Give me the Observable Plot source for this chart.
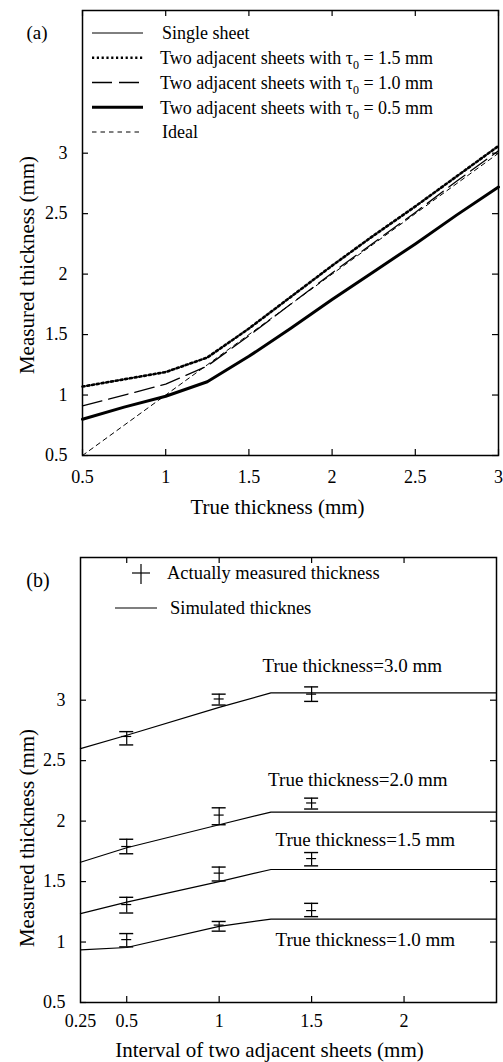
<!DOCTYPE html>
<html>
<head>
<meta charset="utf-8">
<script src="https://cdn.jsdelivr.net/npm/d3@7"></script>
<script src="https://cdn.jsdelivr.net/npm/@observablehq/plot@0.6"></script>
<style>
  body { margin: 0; background: #fff; }
  #chart svg { display: block; }
</style>
</head>
<body>
<div id="chart"></div>
<script>
// ---------- Panel (a): measured vs. true thickness ----------
const trueThickness = [0.5, 0.75, 1, 1.25, 1.5, 1.75, 2, 2.25, 2.5, 2.75, 3];
const singleSheet   = [0.80, 0.90, 0.99, 1.11, 1.32, 1.55, 1.79, 2.02, 2.25, 2.49, 2.72];
const tau15         = [1.07, 1.13, 1.19, 1.31, 1.55, 1.81, 2.07, 2.32, 2.56, 2.81, 3.06];
const tau10         = [0.91, 1.00, 1.09, 1.24, 1.49, 1.75, 2.01, 2.26, 2.51, 2.77, 3.02];
const tau05         = [0.80, 0.90, 0.99, 1.11, 1.32, 1.55, 1.79, 2.02, 2.25, 2.49, 2.72];
const ideal         = [0.5, 0.75, 1, 1.25, 1.5, 1.75, 2, 2.25, 2.5, 2.75, 3];
const legendLabelsA = [
  "Single sheet",
  "Two adjacent sheets with τ0 = 1.5 mm",
  "Two adjacent sheets with τ0 = 1.0 mm",
  "Two adjacent sheets with τ0 = 0.5 mm",
  "Ideal"
];
const xTicksA = [0.5, 1, 1.5, 2, 2.5, 3];
const yTicks  = [0.5, 1, 1.5, 2, 2.5, 3];

// ---------- Panel (b): measured thickness vs. sheet interval ----------
const intervalSim = [0.25, 0.5, 1.0, 1.28, 2.5];
const sim30 = [2.60, 2.71, 2.94, 3.06, 3.06];
const sim20 = [1.66, 1.78, 1.97, 2.075, 2.075];
const sim15 = [1.235, 1.33, 1.50, 1.60, 1.60];
const sim10 = [0.935, 0.955, 1.13, 1.19, 1.19];
const intervalMeas = [0.5, 1.0, 1.5];
const meas30 = [2.70, 3.01, 3.05], meas30Lo = [2.63, 2.96, 2.99], meas30Hi = [2.74, 3.05, 3.11];
const meas20 = [1.79, 2.05, 2.15], meas20Lo = [1.73, 1.97, 2.10], meas20Hi = [1.85, 2.11, 2.19];
const meas15 = [1.31, 1.57, 1.69], meas15Lo = [1.24, 1.505, 1.63], meas15Hi = [1.37, 1.62, 1.74];
const meas10 = [1.02, 1.14, 1.26], meas10Lo = [0.96, 1.09, 1.21], meas10Hi = [1.07, 1.17, 1.32];
const curveLabels = ["True thickness=3.0 mm", "True thickness=2.0 mm", "True thickness=1.5 mm", "True thickness=1.0 mm"];
const legendLabelsB = ["Actually measured thickness", "Simulated thicknes"];
const xTicksB = [0.25, 0.5, 1, 1.5, 2];

// ---------- layout & styles ----------
const SERIF = "'Liberation Serif', 'Times New Roman', serif";
const W = 503;
const LA = {height: 525, top: 10, bottom: 70, left: 82, right: 5};
const LB = {height: 537, top: 32, bottom: 60, left: 80, right: 7};
const TICK = 6;
const Y_DOMAIN = [0.5, 4.18];
const styleA = [
  {width: 1, dash: null},
  {width: 2.6, dash: "2.2,2.6"},
  {width: 1.3, dash: "20,7"},
  {width: 3, dash: null},
  {width: 1, dash: "4.5,4"}
];
const labelX  = [1.72, 1.75, 1.79, 1.79];
const labelDy = [-27, -32, -30, 21];
const fmt = d => String(d);

// inward tick marks on all four sides of the frame
function frameTicks(xt, yt, L) {
  const iw = W - L.left - L.right, ih = L.height - L.top - L.bottom;
  const s = {stroke: "#000", strokeWidth: 1.2};
  return [
    Plot.tickX(xt, {x: d => d, insetTop: ih - TICK, ...s}),
    Plot.tickX(xt, {x: d => d, insetBottom: ih - TICK, ...s}),
    Plot.tickY(yt, {y: d => d, insetRight: iw - TICK, ...s}),
    Plot.tickY(yt, {y: d => d, insetLeft: iw - TICK, ...s})
  ];
}

function baseOptions(L) {
  return {
    width: W, height: L.height,
    marginTop: L.top, marginBottom: L.bottom, marginLeft: L.left, marginRight: L.right,
    style: `font-family: ${SERIF}; font-size: 18px; color: #000; background: #fff; overflow: visible;`
  };
}

const axisText = {fontFamily: SERIF, fontSize: 18};
const titleText = {fontFamily: SERIF, fontSize: 21, textAnchor: "middle"};

// ---------- draw panel (a) ----------
const seriesA = [singleSheet, tau15, tau10, tau05, ideal];
const orderA = [4, 0, 2, 1, 3]; // draw ideal first, heavy lines last
const lineMarksA = orderA.map(i => {
  const rows = trueThickness.map((x, k) => ({x, y: seriesA[i][k]}));
  return Plot.line(rows, {
    x: "x", y: "y", stroke: "#000",
    strokeWidth: styleA[i].width,
    strokeDasharray: styleA[i].dash || undefined
  });
});

const chartA = Plot.plot({
  ...baseOptions(LA),
  x: {domain: [0.5, 3]},
  y: {domain: Y_DOMAIN},
  marks: [
    ...lineMarksA,
    Plot.frame({stroke: "#000", strokeWidth: 1.5}),
    ...frameTicks(xTicksA, yTicks, LA),
    Plot.axisX(xTicksA, {anchor: "bottom", tickSize: 0, tickPadding: 15, label: null, tickFormat: fmt, ...axisText}),
    Plot.axisY(yTicks, {anchor: "left", tickSize: 0, tickPadding: 15, label: null, tickFormat: fmt, ...axisText}),
    Plot.text(["True thickness (mm)"], {text: d => d, frameAnchor: "bottom", dy: 58, dx: -13, ...titleText}),
    Plot.text(["Measured thickness (mm)"], {text: d => d, frameAnchor: "left", rotate: -90, dx: -55, dy: 32, ...titleText})
  ]
});

// ---------- draw panel (b) ----------
const simSeries = [sim30, sim20, sim15, sim10];
const measSeries = [
  [meas30, meas30Lo, meas30Hi],
  [meas20, meas20Lo, meas20Hi],
  [meas15, meas15Lo, meas15Hi],
  [meas10, meas10Lo, meas10Hi]
];
const simRows = simSeries.flatMap((vals, s) => intervalSim.map((x, k) => ({s, x, y: vals[k]})));
const measRows = measSeries.flatMap(([m, lo, hi], s) =>
  intervalMeas.map((x, k) => ({s, x, y: m[k], lo: lo[k], hi: hi[k]})));
const labelMarks = curveLabels.map((label, i) =>
  Plot.text([{label, x: labelX[i], y: simSeries[i][simSeries[i].length - 1]}], {
    x: "x", y: "y", text: "label", dy: labelDy[i], fontSize: 19, fontFamily: SERIF, textAnchor: "middle"
  }));

const chartB = Plot.plot({
  ...baseOptions(LB),
  x: {domain: [0.25, 2.5]},
  y: {domain: Y_DOMAIN},
  marks: [
    Plot.line(simRows, {x: "x", y: "y", z: "s", stroke: "#000", strokeWidth: 1.2}),
    Plot.ruleX(measRows, {x: "x", y1: "lo", y2: "hi", stroke: "#000", strokeWidth: 1.2}),
    Plot.ruleY(measRows, {y: "lo", x1: "x", x2: "x", insetLeft: -7, insetRight: -7, stroke: "#000", strokeWidth: 1.4}),
    Plot.ruleY(measRows, {y: "hi", x1: "x", x2: "x", insetLeft: -7, insetRight: -7, stroke: "#000", strokeWidth: 1.4}),
    Plot.ruleY(measRows, {y: "y", x1: "x", x2: "x", insetLeft: -5, insetRight: -5, stroke: "#000", strokeWidth: 1.2}),
    ...labelMarks,
    Plot.frame({stroke: "#000", strokeWidth: 1.5}),
    ...frameTicks(xTicksB.slice(1), yTicks, LB),
    Plot.axisX(xTicksB, {anchor: "bottom", tickSize: 0, tickPadding: 12, label: null, tickFormat: fmt, ...axisText}),
    Plot.axisY(yTicks, {anchor: "left", tickSize: 0, tickPadding: 15, label: null, tickFormat: fmt, ...axisText}),
    Plot.text(["Interval of two adjacent sheets (mm)"], {text: d => d, frameAnchor: "bottom", dy: 54, dx: -19, ...titleText}),
    Plot.text(["Measured thickness (mm)"], {text: d => d, frameAnchor: "left", rotate: -90, dx: -53, dy: 58, ...titleText})
  ]
});

// ---------- legends and panel letters ----------
function legendText(g, x, y, label) {
  const t = g.append("text").attr("x", x).attr("y", y).attr("dy", "0.35em").attr("text-anchor", "start");
  const parts = label.split("τ0");
  if (parts.length === 2) {
    t.append("tspan").text(parts[0] + "τ");
    t.append("tspan").attr("font-size", 12).attr("dy", 5).text("0");
    t.append("tspan").attr("dy", -5).text(parts[1]);
  } else {
    t.text(label);
  }
}

const gA = d3.select(chartA).append("g")
  .attr("font-family", SERIF).attr("font-size", 18).attr("fill", "#000").attr("text-anchor", "start");
gA.append("text").attr("x", 37).attr("y", 32).attr("dy", "0.35em")
  .attr("text-anchor", "middle").attr("font-size", 19).text("(a)");
legendLabelsA.forEach((label, i) => {
  const y = 33 + i * 24.75;
  gA.append("line").attr("x1", 92).attr("x2", 143).attr("y1", y).attr("y2", y)
    .attr("stroke", "#000").attr("stroke-width", styleA[i].width)
    .attr("stroke-dasharray", styleA[i].dash);
  legendText(gA, i === 0 || i === 4 ? 162 : 160, y, label);
});

const gB = d3.select(chartB).append("g")
  .attr("font-family", SERIF).attr("font-size", 18.5).attr("fill", "#000").attr("text-anchor", "start");
gB.append("text").attr("x", 38).attr("y", 55).attr("dy", "0.35em")
  .attr("text-anchor", "middle").attr("font-size", 20).text("(b)");
gB.append("line").attr("x1", 141).attr("x2", 141).attr("y1", 39).attr("y2", 59).attr("stroke", "#000").attr("stroke-width", 1.2);
gB.append("line").attr("x1", 132).attr("x2", 150).attr("y1", 48).attr("y2", 48).attr("stroke", "#000").attr("stroke-width", 1.2);
legendText(gB, 167, 48, legendLabelsB[0]);
gB.append("line").attr("x1", 115).attr("x2", 157).attr("y1", 83).attr("y2", 83).attr("stroke", "#000").attr("stroke-width", 1.2);
legendText(gB, 170, 83, legendLabelsB[1]);

document.getElementById("chart").append(chartA, chartB);
</script>
</body>
</html>
